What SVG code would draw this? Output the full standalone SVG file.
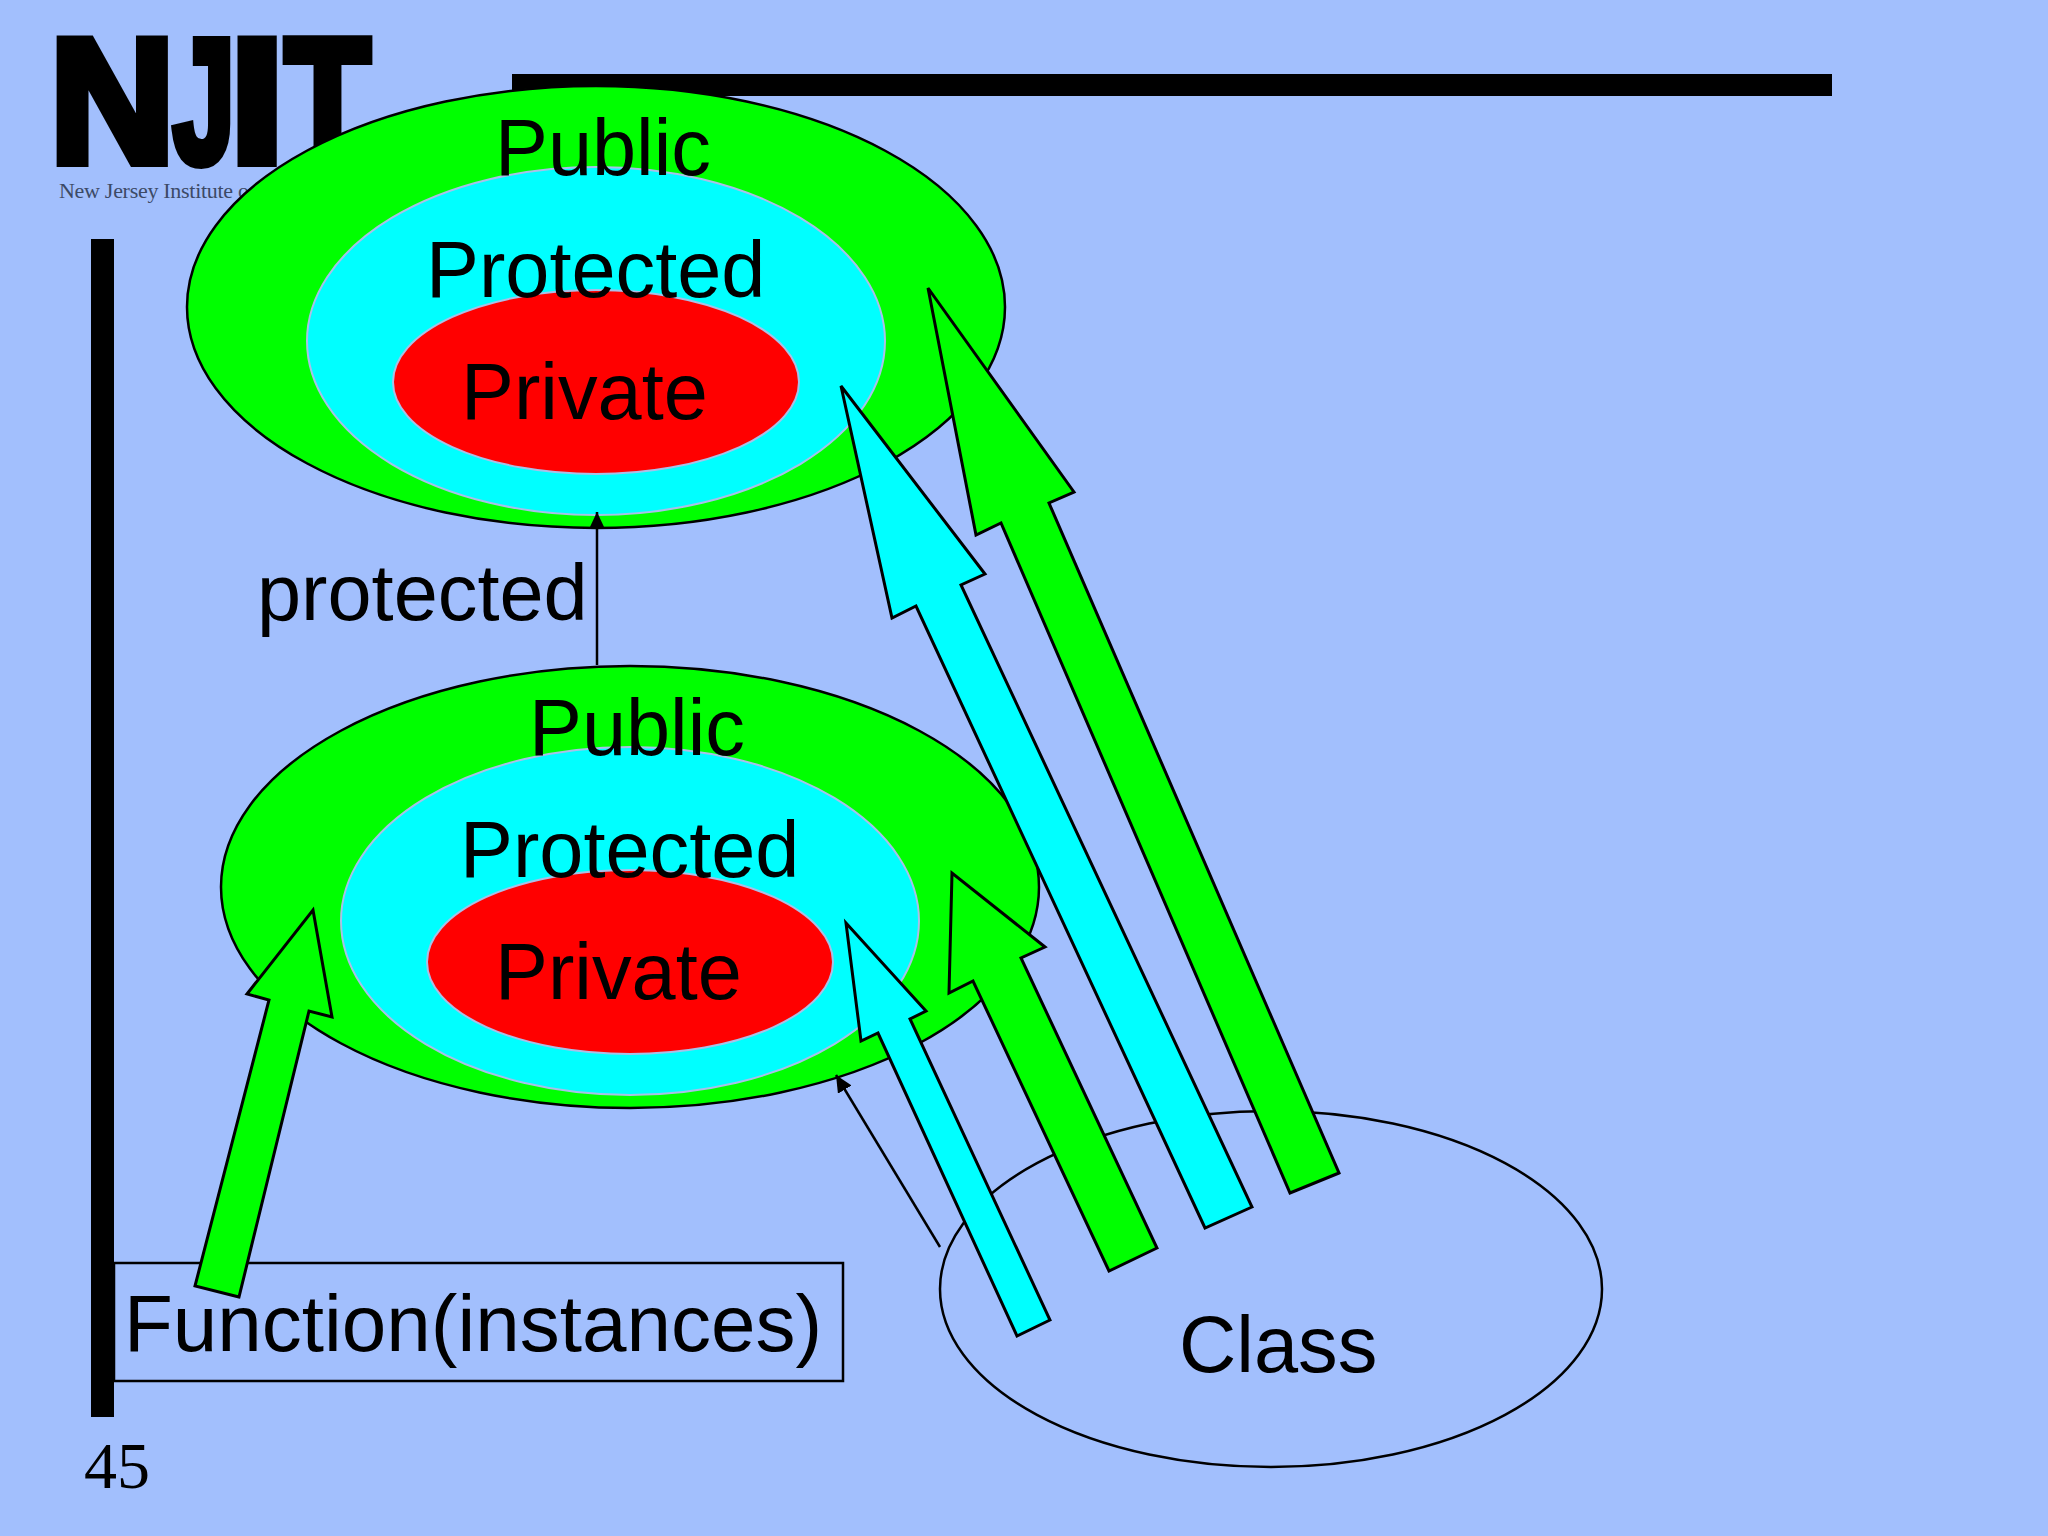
<svg xmlns="http://www.w3.org/2000/svg" width="2048" height="1536" viewBox="0 0 2048 1536">
<defs>
<marker id="head" markerUnits="userSpaceOnUse" markerWidth="20" markerHeight="20" refX="17" refY="8" orient="auto"><path d="M0,0L17,8L0,16Z" fill="#000"/></marker>
<g id="scope">
<ellipse class="pub" cx="596" cy="307" rx="409" ry="221"/>
<ellipse class="pro" cx="596" cy="341" rx="289" ry="174"/>
<ellipse class="pri" cx="596" cy="382" rx="203" ry="92"/>
<text class="lbl" x="495" y="174.5">Public</text>
<text class="lbl" x="426" y="296.5">Protected</text>
<text class="lbl" x="461" y="418.5">Private</text>
</g>
</defs>
<style>
.pub{fill:#00ff00;stroke:#000;stroke-width:2.5}
.pro{fill:#00ffff;stroke:#a9c0e8;stroke-width:2}
.pri{fill:#ff0000;stroke:#a9c0e8;stroke-width:2}
.lbl{font-family:"Liberation Sans",Arial,sans-serif;font-size:79.3px;fill:#000}
.arr{stroke:#000;stroke-width:3;stroke-linejoin:miter}
.g{fill:#00ff00}
.c{fill:#00ffff}
.thin{stroke:#000;stroke-width:2.5;fill:none;marker-end:url(#head)}
.logo{font-family:"Liberation Sans",Arial,sans-serif;font-weight:700;font-size:176px;fill:#000;stroke:#000;stroke-width:10;stroke-linejoin:miter;stroke-miterlimit:2}
</style>
<rect width="2048" height="1536" fill="#a2bffd"/>
<g id="logo">
<text class="logo" transform="translate(50,162) scale(0.98,1)">N</text>
<text class="logo" transform="translate(173,162) scale(0.63,1)">J</text>
<text class="logo" transform="translate(230,162) scale(1.11,1)">I</text>
<text class="logo" transform="translate(285,162) scale(0.79,1)">T</text>
<text x="59" y="198" font-family="'Liberation Serif',serif" font-size="22" fill="#3c4a66" textLength="190">New Jersey Institute o</text>
</g>
<rect id="bar-top" x="512" y="74" width="1320" height="22" fill="#000"/>
<rect id="bar-left" x="91" y="239" width="23" height="1178" fill="#000"/>
<g id="class-node">
<ellipse cx="1271" cy="1289" rx="331" ry="178" fill="none" stroke="#000" stroke-width="2.5"/>
<text class="lbl" x="1179" y="1371.5">Class</text>
</g>
<g id="function-node">
<rect x="114" y="1263" width="729" height="118" fill="none" stroke="#000" stroke-width="2.5"/>
<text class="lbl" x="124" y="1350.5" style="font-size:80px">Function(instances)</text>
</g>
<use id="base-scope" href="#scope"/>
<use id="derived-scope" href="#scope" x="34" y="580"/>
<text class="lbl" id="edge-label" x="257" y="620">protected</text>
<text id="page-number" x="84" y="1488" font-family="'Liberation Serif',serif" font-size="66" fill="#000">45</text>
<g id="connectors">
<path class="thin" d="M597,665V512"/>
<path class="thin" d="M940,1247L836,1075"/>
<polygon class="arr g" points="239,1297 195,1286 269,1000 247,994 313,910 332,1017 309,1011"/>
<polygon class="arr c" points="1050,1320 1017,1336 878,1033 861,1041 846,923 926,1011 910,1019"/>
<polygon class="arr g" points="1157,1248 1109,1271 973,981 949,993 952,873 1045,947 1021,958"/>
<polygon class="arr c" points="1252,1207 1205,1228 916,606 892,618 841,386 985,574 961,585"/>
<polygon class="arr g" points="1339,1173 1290,1193 1001,523 976,535 928,288 1074,492 1049,503"/>
</g>
</svg>
